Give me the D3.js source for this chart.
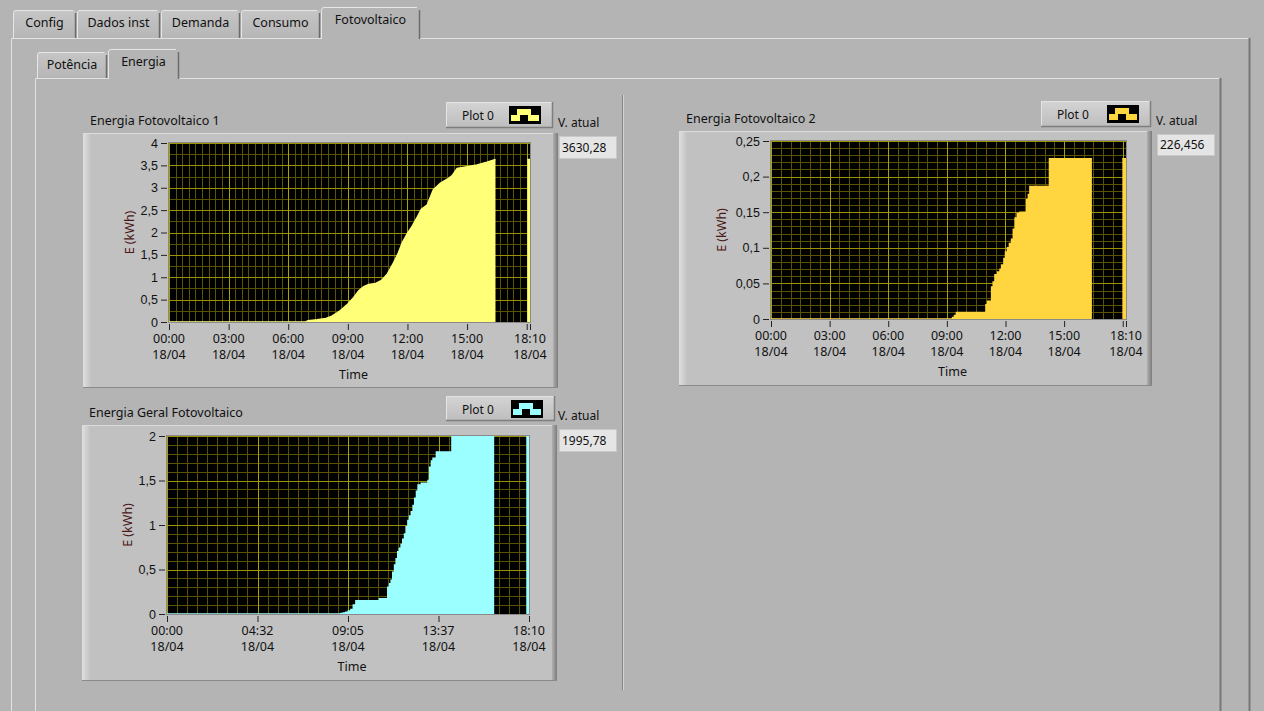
<!DOCTYPE html>
<html>
<head>
<meta charset="utf-8">
<script src="https://cdn.jsdelivr.net/npm/d3@7"></script>
<style>
  body { margin: 0; background: #b4b4b4; overflow: hidden; }
  svg { display: block; font-family: "Noto Sans", "Open Sans", sans-serif; }
</style>
</head>
<body>
<div id="app"></div>
<script>
// ---- data ----
const tabNames = ["Config", "Dados inst", "Demanda", "Consumo", "Fotovoltaico"];
const subTabNames = ["Potência", "Energia"];
const dayLabel = "18/04";
const endHour = 18 + 10 / 60; // 18:10

// Energia Fotovoltaico 1 (hours since 00:00, kWh), null = no samples
const pv1Hours = [0, 6.88, 7.0, 7.45, 7.9, 8.2, 8.55, 9.0, 9.3, 9.55, 9.8, 10.05, 10.4, 10.7, 11.0, 11.3, 11.55, 11.75, 12.0, 12.25, 12.5, 12.7, 13.0, 13.3, 13.65, 14.0, 14.25, 14.5, 15.0, 15.5, 16.0, 16.43, 16.44, 18.03, endHour];
const pv1Energy = [0, 0, 0.03, 0.05, 0.08, 0.13, 0.23, 0.4, 0.55, 0.7, 0.79, 0.84, 0.86, 0.93, 1.08, 1.32, 1.55, 1.78, 1.98, 2.15, 2.35, 2.52, 2.62, 2.95, 3.1, 3.19, 3.27, 3.43, 3.47, 3.51, 3.57, 3.63, null, 3.63, 3.63];

// Energia Fotovoltaico 2
const pv2Hours = [0, 9.29, 9.39, 9.49, 11.0, 11.08, 11.29, 11.37, 11.46, 11.6, 11.72, 11.8, 11.92, 12.0, 12.1, 12.2, 12.31, 12.4, 12.49, 12.6, 12.74, 13.08, 13.17, 13.25, 14.25, 16.42, 16.43, 17.98, endHour];
const pv2Energy = [0, 0.002, 0.005, 0.009, 0.02, 0.025, 0.045, 0.052, 0.062, 0.066, 0.07, 0.076, 0.085, 0.094, 0.1, 0.106, 0.112, 0.126, 0.142, 0.148, 0.15, 0.168, 0.175, 0.186, 0.225, 0.225, null, 0.225, 0.225];

// Energia Geral Fotovoltaico
const pvGHours = [0, 8.72, 8.85, 8.97, 9.1, 9.23, 9.35, 9.48, 10.66, 11.08, 11.17, 11.25, 11.33, 11.42, 11.5, 11.58, 11.66, 11.75, 11.83, 11.92, 12.0, 12.09, 12.17, 12.26, 12.35, 12.43, 12.52, 12.6, 12.76, 13.1, 13.18, 13.27, 13.35, 13.52, 14.3, 16.42, 16.43, 18.03, endHour];
const pvGEnergy = [0, 0.005, 0.01, 0.02, 0.035, 0.05, 0.1, 0.15, 0.17, 0.3, 0.34, 0.38, 0.47, 0.55, 0.62, 0.7, 0.74, 0.78, 0.84, 0.9, 0.98, 1.05, 1.1, 1.15, 1.22, 1.3, 1.38, 1.45, 1.47, 1.5, 1.65, 1.72, 1.75, 1.82, 1.996, 1.996, null, 1.996, 1.996];

// current values (Wh)
const currentWh = [3630.28, 226.456, 1995.78];

// axis ticks
const pv1YTicks = [0, 0.5, 1, 1.5, 2, 2.5, 3, 3.5, 4];
const pv2YTicks = [0, 0.05, 0.1, 0.15, 0.2, 0.25];
const pvGYTicks = [0, 0.5, 1, 1.5, 2];
const hourXTicks = [0, 3, 6, 9, 12, 15, endHour];
const quarterXTicks = [0, endHour / 4, endHour / 2, endHour * 3 / 4, endHour];

// ---- helpers ----
const loc = d3.formatLocale({ decimal: ",", thousands: ".", grouping: [3], currency: ["", ""] });
const fmtY = loc.format(".2~f");
const fmtV = loc.format(".6~g");
const fmtHM = h => {
  const m = Math.floor(h * 60 + 1e-6);
  return String(Math.floor(m / 60)).padStart(2, "0") + ":" + String(m % 60).padStart(2, "0");
};
const crisp = v => Math.round(v) + 0.5;

const W = 1264, H = 711;
const svg = d3.select("#app").append("svg").attr("width", W).attr("height", H);
const defs = svg.append("defs");

const grad = (id, stops, vertical) => {
  const lg = defs.append("linearGradient").attr("id", id)
    .attr("x1", 0).attr("y1", 0).attr("x2", vertical ? 0 : 1).attr("y2", vertical ? 1 : 0);
  stops.forEach(s => lg.append("stop").attr("offset", s[0]).attr("stop-color", s[1]));
};
grad("frameLeft", [[0, "#e0e0e0"], [1, "#c2c2c2"]]);
grad("frameRight", [[0, "#b0b0b0"], [1, "#7c7c7c"]]);
grad("legendFill", [[0, "#d4d4d4"], [1, "#bdbdbd"]], true);
grad("tabFill", [[0, "#c6c6c6"], [1, "#b6b6b6"]], true);

svg.append("rect").attr("width", W).attr("height", H).attr("fill", "#b4b4b4");

// ---- tabs ----
function tab(x0, x1, top, bottom, selected, label, textY) {
  const r = 3;
  svg.append("path")
    .attr("d", `M${x0},${bottom} V${top + r} Q${x0},${top} ${x0 + r},${top} H${x1 - r} Q${x1},${top} ${x1},${top + r} V${bottom}`)
    .attr("fill", selected ? "#b4b4b4" : "url(#tabFill)")
    .attr("stroke", "none");
  svg.append("path").attr("d", `M${x0 + 0.5},${bottom} V${top + r} Q${x0 + 0.5},${top + 0.5} ${x0 + r},${top + 0.5} H${x1 - r}`)
    .attr("fill", "none").attr("stroke", "#e6e6e6");
  svg.append("path").attr("d", `M${x1 - 0.5},${top + r} V${bottom}`)
    .attr("fill", "none").attr("stroke", "#6c6c6c").attr("stroke-width", 1.5);
  svg.append("text").attr("x", (x0 + x1) / 2).attr("y", textY).attr("text-anchor", "middle")
    .attr("font-size", 12.5).attr("fill", "#111").text(label);
}

// outer panel
svg.append("path").attr("d", "M11.5,711 V38.5 H1249").attr("fill", "none").attr("stroke", "#e2e2e2");
svg.append("path").attr("d", "M1249.5,38 V711").attr("fill", "none").attr("stroke", "#777").attr("stroke-width", 2);
const tabX = [13, 77, 161, 241, 321, 421];
tabNames.forEach((n, i) => {
  const sel = i === tabNames.length - 1;
  tab(tabX[i], tabX[i + 1] - 1, sel ? 7 : 10, sel ? 39 : 38, sel, n, sel ? 24 : 27);
});

// inner panel
svg.append("path").attr("d", "M35.5,711 V78.5 H1220").attr("fill", "none").attr("stroke", "#e2e2e2");
svg.append("path").attr("d", "M1220.5,78 V711").attr("fill", "none").attr("stroke", "#777").attr("stroke-width", 2);
const subX = [37, 108, 180];
subTabNames.forEach((n, i) => {
  const sel = i === 1;
  tab(subX[i], subX[i + 1] - 1, sel ? 49 : 52, sel ? 79 : 78, sel, n, sel ? 66 : 69);
});

// separator
svg.append("line").attr("x1", 622.5).attr("x2", 622.5).attr("y1", 95).attr("y2", 690).attr("stroke", "#858585");
svg.append("line").attr("x1", 623.5).attr("x2", 623.5).attr("y1", 95).attr("y2", 690).attr("stroke", "#d4d4d4");

// ---- charts ----
function drawChart(cfg) {
  const g = svg.append("g");
  const f = cfg.frame, p = cfg.plot;

  // raised frame
  g.append("rect").attr("x", f.x).attr("y", f.y).attr("width", f.w).attr("height", f.h).attr("fill", "#c1c1c1");
  g.append("rect").attr("x", f.x).attr("y", f.y).attr("width", 8).attr("height", f.h).attr("fill", "url(#frameLeft)");
  g.append("rect").attr("x", f.x + f.w - 5).attr("y", f.y).attr("width", 5).attr("height", f.h).attr("fill", "url(#frameRight)");
  g.append("line").attr("x1", f.x).attr("x2", f.x + f.w - 5).attr("y1", f.y + 0.5).attr("y2", f.y + 0.5).attr("stroke", "#dcdcdc");
  g.append("line").attr("x1", f.x).attr("x2", f.x + f.w).attr("y1", f.y + f.h - 0.5).attr("y2", f.y + f.h - 0.5).attr("stroke", "#8a8a8a");

  // title
  g.append("text").attr("x", cfg.titlePos[0]).attr("y", cfg.titlePos[1]).attr("font-size", 12.5).attr("fill", "#111").text(cfg.title);

  // legend
  const L = cfg.legend;
  g.append("rect").attr("x", L.x).attr("y", L.y).attr("width", L.w).attr("height", L.h).attr("fill", "url(#legendFill)");
  g.append("path").attr("d", `M${L.x + 0.5},${L.y + L.h} V${L.y + 0.5} H${L.x + L.w}`).attr("fill", "none").attr("stroke", "#e4e4e4");
  g.append("path").attr("d", `M${L.x},${L.y + L.h - 0.5} H${L.x + L.w - 0.5} V${L.y}`).attr("fill", "none").attr("stroke", "#7e7e7e").attr("stroke-width", 1.5);
  g.append("text").attr("x", L.x + 16).attr("y", L.y + 17.5).attr("font-size", 12).attr("fill", "#111").text("Plot 0");
  const sx = L.x + L.w - 44, sy = L.y + 4;
  g.append("rect").attr("x", sx).attr("y", sy).attr("width", 32).attr("height", 18).attr("fill", "#000");
  [[8, 3, 14, 6], [2, 9, 9, 6], [19, 9, 11, 6]].forEach(r =>
    g.append("rect").attr("x", sx + r[0]).attr("y", sy + r[1]).attr("width", r[2]).attr("height", r[3]).attr("fill", cfg.color));

  // current value
  const V = cfg.valueBox;
  g.append("text").attr("x", V.x - 1).attr("y", V.y - 9).attr("font-size", 12).attr("fill", "#111").text("V. atual");
  g.append("rect").attr("x", V.x + 0.5).attr("y", V.y + 0.5).attr("width", V.w).attr("height", V.h)
    .attr("fill", "#e5e5e5").attr("stroke", "#c9c9c9");
  g.append("text").attr("x", V.x + 3).attr("y", V.y + V.h / 2 + 4.5).attr("font-size", 12).attr("fill", "#111").text(fmtV(cfg.current));

  // scales
  const x = d3.scaleLinear().domain([0, endHour]).range([p.x, p.x + p.w]);
  const y = d3.scaleLinear().domain([0, cfg.yMax]).range([p.y + p.h, p.y]);

  // plot background + grid
  g.append("rect").attr("x", p.x).attr("y", p.y).attr("width", p.w).attr("height", p.h).attr("fill", "#000");
  const grid = g.append("g");
  const xMinor = [];
  for (let i = 0; i < cfg.xMajor.length - 1; i++) {
    const a = cfg.xMajor[i], b = cfg.xMajor[i + 1];
    const n = Math.max(1, Math.round((b - a) / cfg.xMinorStep));
    for (let k = 1; k < n; k++) xMinor.push(a + (b - a) * k / n);
  }
  const yMinor = d3.range(0, cfg.yMax + 1e-9, cfg.yMinorStep);
  grid.selectAll(".ym").data(yMinor).join("line")
    .attr("x1", p.x).attr("x2", p.x + p.w).attr("y1", d => crisp(y(d))).attr("y2", d => crisp(y(d)))
    .attr("stroke", "#5a5400");
  grid.selectAll(".xm").data(xMinor).join("line")
    .attr("y1", p.y).attr("y2", p.y + p.h).attr("x1", d => crisp(x(d))).attr("x2", d => crisp(x(d)))
    .attr("stroke", "#5a5400");
  grid.selectAll(".yM").data(cfg.yTicks).join("line")
    .attr("x1", p.x).attr("x2", p.x + p.w).attr("y1", d => crisp(y(d))).attr("y2", d => crisp(y(d)))
    .attr("stroke", "#9a9200");
  grid.selectAll(".xM").data(cfg.xMajor).join("line")
    .attr("y1", p.y).attr("y2", p.y + p.h).attr("x1", d => crisp(x(d))).attr("x2", d => crisp(x(d)))
    .attr("stroke", "#aaa200");

  // data
  const data = cfg.hours.map((h, i) => ({ h, v: cfg.energy[i] }));
  const clipId = "clip" + cfg.id;
  defs.append("clipPath").attr("id", clipId).append("rect")
    .attr("x", p.x).attr("y", p.y).attr("width", p.w).attr("height", p.h);
  const area = d3.area().defined(d => d.v != null).curve(cfg.curve)
    .x(d => x(d.h)).y0(y(0)).y1(d => y(d.v));
  const line = d3.line().defined(d => d.v != null).curve(cfg.curve)
    .x(d => x(d.h)).y(d => y(d.v));
  const dg = g.append("g").attr("clip-path", `url(#${clipId})`);
  dg.append("path").attr("d", area(data)).attr("fill", cfg.color);
  dg.append("path").attr("d", line(data)).attr("fill", "none").attr("stroke", cfg.color).attr("stroke-width", 1.5);

  g.append("rect").attr("x", p.x - 0.5).attr("y", p.y - 0.5).attr("width", p.w + 1).attr("height", p.h + 1)
    .attr("fill", "none").attr("stroke", "#8a8a8a");

  // y axis
  const ya = g.append("g").attr("transform", `translate(${p.x - 2},0)`)
    .call(d3.axisLeft(y).tickValues(cfg.yTicks).tickFormat(fmtY).tickSize(6).tickPadding(3));
  ya.select(".domain").remove();
  ya.selectAll("line").attr("stroke", "#222");
  ya.selectAll("text").attr("font-size", 12.5).attr("fill", "#111").attr("font-family", "inherit");

  // x axis
  const xa = g.append("g").attr("transform", `translate(0,${p.y + p.h + 2})`)
    .call(d3.axisBottom(x).tickValues(cfg.xMajor).tickFormat("").tickSize(6));
  xa.select(".domain").remove();
  xa.selectAll("line").attr("stroke", "#222");
  const lbl = g.append("g");
  cfg.xLabels.forEach(h => {
    const t = lbl.append("text").attr("x", x(h)).attr("y", p.y + p.h + 21)
      .attr("text-anchor", "middle").attr("font-size", 12.5).attr("fill", "#111");
    t.append("tspan").attr("x", x(h)).text(fmtHM(h));
    t.append("tspan").attr("x", x(h)).attr("dy", 16).text(dayLabel);
  });

  g.append("text").attr("x", p.x + p.w / 2 + 4).attr("y", p.y + p.h + 57).attr("text-anchor", "middle")
    .attr("font-size", 12.5).attr("fill", "#111").text("Time");
  g.append("text").attr("transform", `translate(${p.x + cfg.yLabelDx},${p.y + p.h / 2}) rotate(-90)`)
    .attr("text-anchor", "middle").attr("font-size", 12.5).attr("fill", "#4a1616").text("E (kWh)");
}

drawChart({
  id: 1, title: "Energia Fotovoltaico 1", titlePos: [90, 125],
  frame: { x: 83, y: 133, w: 475, h: 255 },
  plot: { x: 169, y: 143, w: 361, h: 179 },
  legend: { x: 446, y: 102, w: 107, h: 26 },
  valueBox: { x: 559, y: 136, w: 57, h: 22 },
  current: currentWh[0], yLabelDx: -35,
  hours: pv1Hours, energy: pv1Energy, color: "#ffff78", curve: d3.curveLinear,
  yMax: 4, yTicks: pv1YTicks, yMinorStep: 0.25,
  xMajor: [0, 3, 6, 9, 12, 15, 18, endHour], xLabels: hourXTicks, xMinorStep: 1 / 3
});

drawChart({
  id: 2, title: "Energia Fotovoltaico 2", titlePos: [686, 123],
  frame: { x: 679, y: 131, w: 473, h: 255 },
  plot: { x: 771, y: 141, w: 355, h: 178 },
  legend: { x: 1041, y: 101, w: 110, h: 26 },
  valueBox: { x: 1157, y: 134, w: 57, h: 21 },
  current: currentWh[1], yLabelDx: -45,
  hours: pv2Hours, energy: pv2Energy, color: "#ffd640", curve: d3.curveStepAfter,
  yMax: 0.25, yTicks: pv2YTicks, yMinorStep: 0.01,
  xMajor: [0, 3, 6, 9, 12, 15, 18, endHour], xLabels: hourXTicks, xMinorStep: 0.5
});

drawChart({
  id: 3, title: "Energia Geral Fotovoltaico", titlePos: [89, 417],
  frame: { x: 82, y: 425, w: 475, h: 256 },
  plot: { x: 167, y: 436, w: 362, h: 178 },
  legend: { x: 446, y: 396, w: 109, h: 25 },
  valueBox: { x: 559, y: 429, w: 57, h: 22 },
  current: currentWh[2], yLabelDx: -35,
  hours: pvGHours, energy: pvGEnergy, color: "#9cffff", curve: d3.curveStepAfter,
  yMax: 2, yTicks: pvGYTicks, yMinorStep: 0.1,
  xMajor: quarterXTicks, xLabels: quarterXTicks, xMinorStep: endHour / 36
});
</script>
</body>
</html>
